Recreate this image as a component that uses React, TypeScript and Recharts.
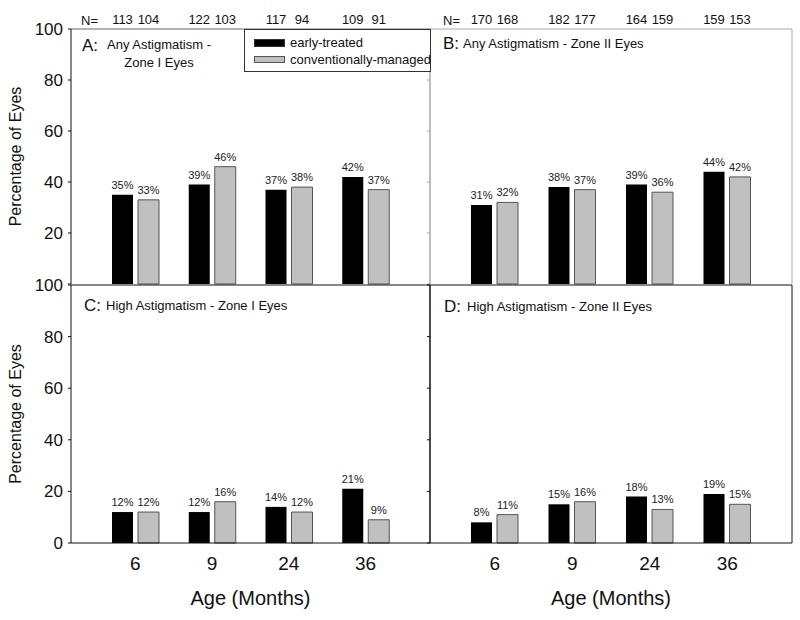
import { BarChart, Bar, XAxis, YAxis, LabelList } from 'recharts';

const ages = ['6', '9', '24', '36'];

// Any astigmatism (%)
const anyZone1Early = [35, 39, 37, 42];
const anyZone1Conv = [33, 46, 38, 37];
const anyZone2Early = [31, 38, 39, 44];
const anyZone2Conv = [32, 37, 36, 42];

// High astigmatism (%)
const highZone1Early = [12, 12, 14, 21];
const highZone1Conv = [12, 16, 12, 9];
const highZone2Early = [8, 15, 18, 19];
const highZone2Conv = [11, 16, 13, 15];

// number of eyes per group
const nZone1Early = [113, 122, 117, 109];
const nZone1Conv = [104, 103, 94, 91];
const nZone2Early = [170, 182, 164, 159];
const nZone2Conv = [168, 177, 159, 153];

const yTicks = [0, 20, 40, 60, 80, 100];

const FONT = '"Liberation Sans", Arial, Helvetica, sans-serif';
const INK = '#111';
const LIGHT = '#a8a8a8';
const GRAY_FILL = '#c0c0c0';
const GRAY_EDGE = '#555';

type PanelProps = {
  left: number;
  top: number;
  width: number;
  height: number;
  margin: { top: number; right: number; bottom: number; left: number };
  early: number[];
  conv: number[];
  nEarly?: number[];
  nConv?: number[];
  yLabels: boolean;
  hideZero?: boolean;
  xLabels: boolean;
  leftStroke: string;
  rightStroke: string;
  topStroke: string;
};

const renderN = (props: any) => (
  <text
    x={Number(props.x) + Number(props.width) / 2}
    y={24}
    textAnchor="middle"
    fontSize={13}
    fontFamily={FONT}
    fill={INK}
  >
    {props.value}
  </text>
);

function Panel(p: PanelProps) {
  const data = ages.map((age, i) => ({
    age,
    early: p.early[i],
    conv: p.conv[i],
    nEarly: p.nEarly ? p.nEarly[i] : null,
    nConv: p.nConv ? p.nConv[i] : null,
  }));

  // axes of 1px stand in for the panel frame (0px axes are not drawn)
  return (
    <div style={{ position: 'absolute', left: p.left, top: p.top }}>
      <BarChart width={p.width} height={p.height} data={data} margin={p.margin} barSize={21} barGap={5}>
        <XAxis
          dataKey="age"
          hide={!p.xLabels}
          padding={{ left: 26, right: 26 }}
          height={77}
          tickLine={false}
          tickMargin={8}
          axisLine={{ stroke: INK }}
          tick={{ fontSize: 19, fill: INK, fontFamily: FONT }}
          label={{
            value: 'Age (Months)',
            position: 'insideBottom',
            offset: 15,
            style: { fontSize: 20, fill: INK, fontFamily: FONT },
          }}
        />
        <XAxis
          xAxisId="top"
          dataKey="age"
          orientation="top"
          height={1}
          tick={false}
          tickLine={false}
          axisLine={{ stroke: p.topStroke }}
        />
        <YAxis
          domain={[0, 100]}
          ticks={yTicks}
          width={p.yLabels ? 71 : 1}
          tickSize={3}
          tickMargin={5}
          axisLine={{ stroke: p.leftStroke }}
          tickLine={{ stroke: p.leftStroke }}
          tickFormatter={(v: number) => (p.yLabels && !(p.hideZero && v === 0) ? String(v) : '')}
          tick={{ fontSize: 17, fill: INK, fontFamily: FONT }}
          label={
            p.yLabels
              ? {
                  value: 'Percentage of Eyes',
                  angle: -90,
                  position: 'insideLeft',
                  offset: 15,
                  style: { textAnchor: 'middle', fontSize: 16, fill: INK, fontFamily: FONT },
                }
              : undefined
          }
        />
        <YAxis
          yAxisId="r"
          orientation="right"
          domain={[0, 100]}
          ticks={yTicks}
          width={1}
          tickSize={3}
          axisLine={{ stroke: p.rightStroke }}
          tickLine={{ stroke: p.rightStroke }}
          tickFormatter={() => ''}
        />
        <Bar dataKey="early" fill="#000" isAnimationActive={false}>
          <LabelList
            dataKey="early"
            position="top"
            offset={6}
            formatter={(v: any) => `${v}%`}
            fontSize={11}
            fontFamily={FONT}
            fill="#222"
          />
          {p.nEarly && <LabelList dataKey="nEarly" content={renderN} />}
        </Bar>
        <Bar dataKey="conv" fill={GRAY_FILL} stroke={GRAY_EDGE} strokeWidth={1} isAnimationActive={false}>
          <LabelList
            dataKey="conv"
            position="top"
            offset={6}
            formatter={(v: any) => `${v}%`}
            fontSize={11}
            fontFamily={FONT}
            fill="#222"
          />
          {p.nConv && <LabelList dataKey="nConv" content={renderN} />}
        </Bar>
      </BarChart>
    </div>
  );
}

const txt = (extra: React.CSSProperties): React.CSSProperties => ({
  position: 'absolute',
  fontFamily: FONT,
  color: INK,
  whiteSpace: 'nowrap',
  lineHeight: 1,
  ...extra,
});

export default function App() {
  return (
    <div style={{ position: 'absolute', left: 0, top: 0, width: 800, height: 620, background: '#fff', overflow: 'hidden' }}>
      <Panel
        left={0}
        top={0}
        width={440}
        height={300}
        margin={{ top: 28, right: 9, bottom: 16, left: 0 }}
        early={anyZone1Early}
        conv={anyZone1Conv}
        nEarly={nZone1Early}
        nConv={nZone1Conv}
        yLabels
        hideZero
        xLabels={false}
        leftStroke={INK}
        rightStroke={LIGHT}
        topStroke="#666"
      />
      <Panel
        left={420}
        top={0}
        width={380}
        height={300}
        margin={{ top: 28, right: 7, bottom: 16, left: 9 }}
        early={anyZone2Early}
        conv={anyZone2Conv}
        nEarly={nZone2Early}
        nConv={nZone2Conv}
        yLabels={false}
        xLabels={false}
        leftStroke={LIGHT}
        rightStroke={LIGHT}
        topStroke={LIGHT}
      />
      <Panel
        left={0}
        top={270}
        width={440}
        height={350}
        margin={{ top: 14, right: 9, bottom: 0, left: 0 }}
        early={highZone1Early}
        conv={highZone1Conv}
        yLabels
        xLabels
        leftStroke={INK}
        rightStroke={INK}
        topStroke={INK}
      />
      <Panel
        left={420}
        top={270}
        width={380}
        height={350}
        margin={{ top: 14, right: 7, bottom: 0, left: 9 }}
        early={highZone2Early}
        conv={highZone2Conv}
        yLabels={false}
        xLabels
        leftStroke={INK}
        rightStroke={INK}
        topStroke={INK}
      />

      {/* N= row */}
      <div style={txt({ left: 81, top: 14, fontSize: 13 })}>N=</div>
      <div style={txt({ left: 443, top: 14, fontSize: 13 })}>N=</div>

      {/* panel titles */}
      <div style={txt({ left: 82, top: 37, fontSize: 17 })}>A:</div>
      <div style={txt({ left: 106, top: 36, width: 106, fontSize: 13, lineHeight: '18px', textAlign: 'center', whiteSpace: 'normal' })}>
        Any Astigmatism -<br />Zone I Eyes
      </div>
      <div style={txt({ left: 443, top: 35, fontSize: 17 })}>B:</div>
      <div style={txt({ left: 463, top: 37, fontSize: 13 })}>Any Astigmatism - Zone II Eyes</div>
      <div style={txt({ left: 84, top: 297, fontSize: 17 })}>C:</div>
      <div style={txt({ left: 106, top: 299, fontSize: 13 })}>High Astigmatism - Zone I Eyes</div>
      <div style={txt({ left: 444, top: 298, fontSize: 17 })}>D:</div>
      <div style={txt({ left: 467, top: 300, fontSize: 13 })}>High Astigmatism - Zone II Eyes</div>

      {/* legend */}
      <div
        style={{
          position: 'absolute',
          left: 244,
          top: 29,
          width: 187,
          height: 43,
          boxSizing: 'border-box',
          border: '1px solid #333',
          background: '#fff',
        }}
      >
        <div style={{ position: 'absolute', left: 9, top: 9, width: 29, height: 6, background: '#000', border: '1px solid #333' }} />
        <div style={txt({ left: 45, top: 6, fontSize: 13 })}>early-treated</div>
        <div style={{ position: 'absolute', left: 9, top: 26, width: 29, height: 5, background: GRAY_FILL, border: '1px solid #555' }} />
        <div style={txt({ left: 45, top: 23, fontSize: 13 })}>conventionally-managed</div>
      </div>
    </div>
  );
}
